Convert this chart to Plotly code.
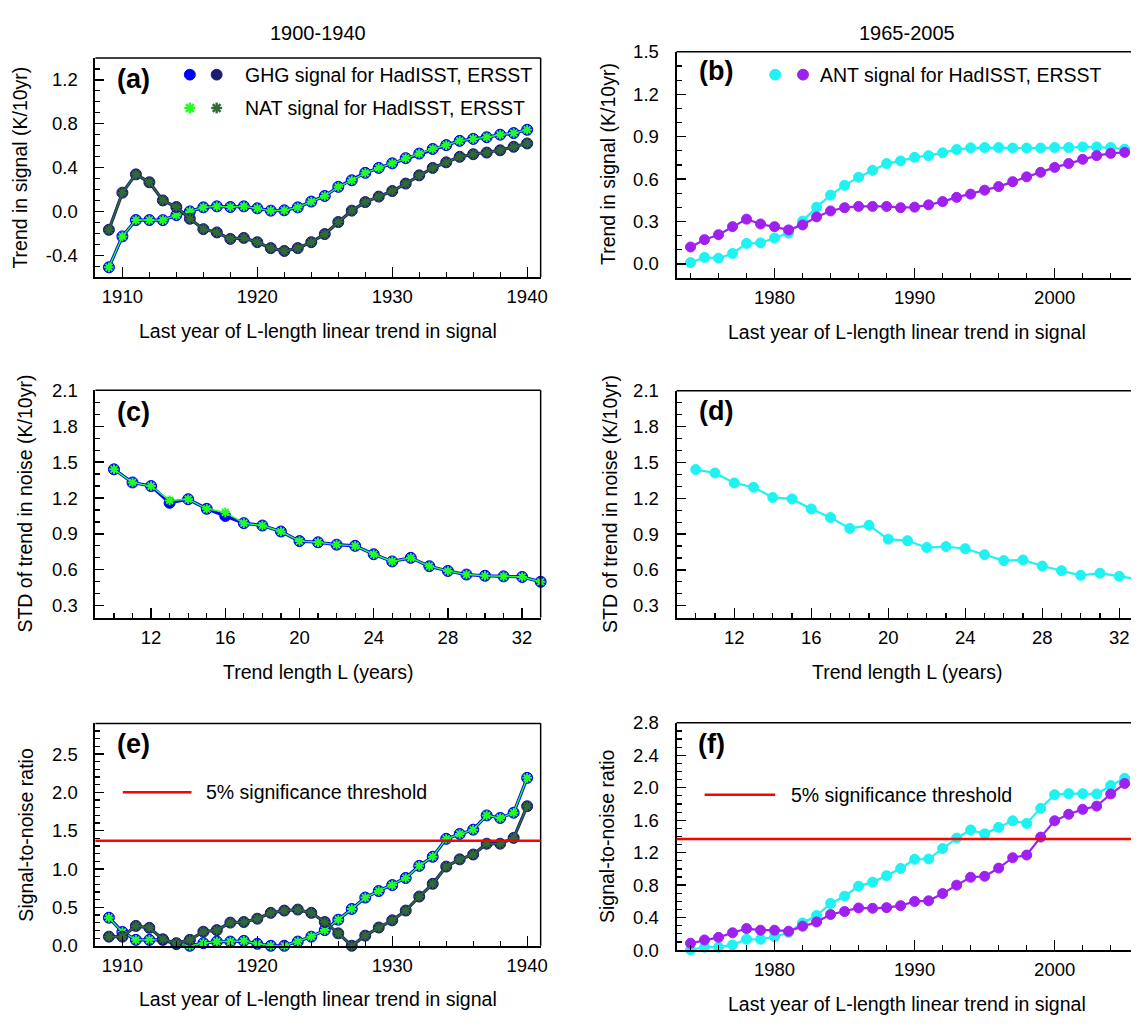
import plotly.graph_objects as go

W, H = 1138, 1026
FONT = "Liberation Sans, Arial, Helvetica, sans-serif"

# ---------------- data ----------------
YEARS_EARLY = list(range(1909, 1941))
YEARS_LATE = list(range(1974, 2006))
TREND_LENGTH = list(range(10, 34))

# (a) signal trends 1900-1940
GHG_SIGNAL_HAD = [-0.51, -0.228, -0.079, -0.079, -0.08, -0.034, 0.0, 0.037, 0.046, 0.04, 0.046,
                  0.028, 0.007, 0.01, 0.037, 0.09, 0.141, 0.224, 0.284, 0.352, 0.397, 0.439,
                  0.486, 0.528, 0.57, 0.605, 0.644, 0.662, 0.677, 0.70, 0.715, 0.745]
NAT_SIGNAL_HAD = [-0.51, -0.228, -0.079, -0.079, -0.08, -0.034, 0.0, 0.037, 0.046, 0.04, 0.046,
                  0.028, 0.007, 0.01, 0.037, 0.09, 0.141, 0.224, 0.284, 0.352, 0.397, 0.439,
                  0.486, 0.528, 0.57, 0.605, 0.644, 0.662, 0.677, 0.70, 0.715, 0.745]
GHG_SIGNAL_ERS = [-0.168, 0.171, 0.338, 0.266, 0.10, 0.04, -0.067, -0.162, -0.192, -0.251, -0.242,
                  -0.281, -0.335, -0.361, -0.335, -0.281, -0.207, -0.097, 0.007, 0.085, 0.135,
                  0.186, 0.254, 0.329, 0.397, 0.448, 0.498, 0.522, 0.537, 0.558, 0.59, 0.62]
NAT_SIGNAL_ERS = [-0.168, 0.171, 0.338, 0.266, 0.10, 0.04, -0.067, -0.162, -0.192, -0.251, -0.242,
                  -0.281, -0.335, -0.361, -0.335, -0.281, -0.207, -0.097, 0.007, 0.085, 0.135,
                  0.186, 0.254, 0.329, 0.397, 0.448, 0.498, 0.522, 0.537, 0.558, 0.59, 0.62]

# (b) ANT signal trends 1965-2005
ANT_SIGNAL_HAD = [0.01, 0.046, 0.041, 0.074, 0.145, 0.149, 0.184, 0.218, 0.303, 0.402, 0.487,
                  0.556, 0.614, 0.662, 0.71, 0.729, 0.754, 0.766, 0.786, 0.809, 0.821, 0.823,
                  0.823, 0.82, 0.82, 0.82, 0.823, 0.823, 0.828, 0.828, 0.823, 0.811]
ANT_SIGNAL_ERS = [0.12, 0.172, 0.207, 0.264, 0.317, 0.283, 0.264, 0.241, 0.276, 0.333, 0.375,
                  0.398, 0.407, 0.407, 0.407, 0.398, 0.402, 0.418, 0.441, 0.471, 0.494, 0.522,
                  0.547, 0.582, 0.616, 0.648, 0.683, 0.71, 0.74, 0.766, 0.782, 0.789]

# (c) / (d) STD of trend in noise
NOISE_GHG = [1.44, 1.33, 1.30, 1.16, 1.19, 1.11, 1.05, 0.99, 0.97, 0.92, 0.84, 0.83,
             0.81, 0.80, 0.73, 0.67, 0.70, 0.63, 0.59, 0.56, 0.55, 0.545, 0.54, 0.50]
NOISE_NAT = [1.44, 1.33, 1.30, 1.18, 1.19, 1.11, 1.08, 0.99, 0.97, 0.92, 0.84, 0.83,
             0.81, 0.80, 0.73, 0.67, 0.70, 0.63, 0.59, 0.56, 0.55, 0.545, 0.54, 0.50]
NOISE_ANT = [1.44, 1.411, 1.328, 1.292, 1.206, 1.194, 1.11, 1.038, 0.947, 0.973, 0.857, 0.844,
             0.787, 0.795, 0.777, 0.727, 0.678, 0.683, 0.632, 0.593, 0.554, 0.572, 0.546, 0.52]

# (e) signal-to-noise 1900-1940
SNR_GHG_HAD = [0.366, 0.18, 0.077, 0.077, 0.077, 0.021, 0.0, 0.034, 0.055, 0.055, 0.064, 0.026,
               0.0, 0.0, 0.055, 0.119, 0.204, 0.34, 0.48, 0.629, 0.714, 0.791, 0.884, 1.042,
               1.161, 1.395, 1.458, 1.514, 1.70, 1.667, 1.735, 2.19]
SNR_NAT_HAD = [0.366, 0.18, 0.077, 0.077, 0.077, 0.021, 0.0, 0.034, 0.055, 0.055, 0.064, 0.026,
               0.0, 0.0, 0.055, 0.119, 0.204, 0.34, 0.48, 0.629, 0.714, 0.791, 0.884, 1.042,
               1.161, 1.395, 1.458, 1.514, 1.70, 1.667, 1.735, 2.19]
SNR_GHG_ERS = [0.119, 0.119, 0.259, 0.234, 0.085, 0.034, 0.077, 0.183, 0.204, 0.302, 0.31, 0.353,
               0.429, 0.459, 0.472, 0.429, 0.31, 0.162, 0.0, 0.132, 0.238, 0.332, 0.459, 0.642,
               0.808, 1.033, 1.127, 1.19, 1.331, 1.331, 1.407, 1.82]
SNR_NAT_ERS = [0.119, 0.119, 0.259, 0.234, 0.085, 0.034, 0.077, 0.183, 0.204, 0.302, 0.31, 0.353,
               0.429, 0.459, 0.472, 0.429, 0.31, 0.162, 0.0, 0.132, 0.238, 0.332, 0.459, 0.642,
               0.808, 1.033, 1.127, 1.19, 1.331, 1.331, 1.407, 1.82]

# (f) signal-to-noise 1965-2005
SNR_ANT_HAD = [0.004, 0.036, 0.036, 0.064, 0.133, 0.133, 0.165, 0.217, 0.334, 0.426, 0.575,
               0.664, 0.788, 0.837, 0.917, 1.006, 1.118, 1.122, 1.251, 1.38, 1.48, 1.432,
               1.512, 1.593, 1.561, 1.746, 1.915, 1.927, 1.927, 1.923, 2.027, 2.116]
SNR_ANT_ERS = [0.084, 0.125, 0.157, 0.213, 0.265, 0.245, 0.245, 0.233, 0.294, 0.346, 0.438,
               0.475, 0.519, 0.515, 0.523, 0.547, 0.599, 0.607, 0.696, 0.80, 0.897, 0.909,
               1.01, 1.138, 1.171, 1.392, 1.593, 1.673, 1.734, 1.774, 1.923, 2.052]

THRESHOLD = 1.37

Y_TICKS_A = [-0.4, 0.0, 0.4, 0.8, 1.2]
Y_TICKS_B = [0.0, 0.3, 0.6, 0.9, 1.2, 1.5]
Y_TICKS_CD = [0.3, 0.6, 0.9, 1.2, 1.5, 1.8, 2.1]
Y_TICKS_E = [0.0, 0.5, 1.0, 1.5, 2.0, 2.5]
Y_TICKS_F = [0.0, 0.4, 0.8, 1.2, 1.6, 2.0, 2.4, 2.8]

# ---------------- styles ----------------
BLUE = "#0000ff"
NAVY = "#1c1c72"
LIME = "#22ff22"
DKGREEN = "#2f6b35"
CYAN = "#1ff2f2"
PURPLE = "#a020f0"
RED = "#ff0000"


def px(x):
    return x / W


def py(y):
    return 1 - y / H


# panel geometry in pixels: (left, right, top, bottom)
GEOM = {
    1: (96, 544, 48, 271.7),
    2: (680.7, W, 41.7, 272.7),
    3: (96, 544, 387.3, 619.3),
    4: (680.7, W, 387.7, 619.3),
    5: (96, 544, 727.3, 954.3),
    6: (680.7, W, 726.7, 958.7),
}

fig = go.Figure()


def add(i, x, y, color, symbol, msize, lw, mline=None):
    suffix = "" if i == 1 else str(i)
    if symbol == "asterisk-open":
        marker = dict(symbol=symbol, size=msize, line=dict(color=color, width=2))
    else:
        marker = dict(symbol=symbol, size=msize, color=color,
                      line=dict(color=mline or color, width=1))
    fig.add_trace(go.Scatter(x=x, y=y, mode="lines+markers", xaxis="x" + suffix,
                             yaxis="y" + suffix, line=dict(color=color, width=lw),
                             marker=marker, cliponaxis=False, showlegend=False,
                             hoverinfo="skip"))


# (a)
add(1, YEARS_EARLY, GHG_SIGNAL_HAD, BLUE, "circle", 11, 3.2)
add(1, YEARS_EARLY, NAT_SIGNAL_HAD, LIME, "asterisk-open", 8, 1.4)
add(1, YEARS_EARLY, GHG_SIGNAL_ERS, NAVY, "circle", 11, 3.2)
add(1, YEARS_EARLY, NAT_SIGNAL_ERS, DKGREEN, "asterisk-open", 8, 1.6)
# (b)
add(2, YEARS_LATE, ANT_SIGNAL_HAD, CYAN, "circle", 10, 2.2)
add(2, YEARS_LATE, ANT_SIGNAL_ERS, PURPLE, "circle", 10, 2.2)
# (c)
add(3, TREND_LENGTH, NOISE_GHG, BLUE, "circle", 11, 3.2)
add(3, TREND_LENGTH, NOISE_NAT, LIME, "asterisk-open", 8, 1.4)
# (d)
add(4, TREND_LENGTH, NOISE_ANT, CYAN, "circle", 10, 2.2)
# (e)
add(5, YEARS_EARLY, SNR_GHG_HAD, BLUE, "circle", 11, 3.2)
add(5, YEARS_EARLY, SNR_NAT_HAD, LIME, "asterisk-open", 8, 1.4)
add(5, YEARS_EARLY, SNR_GHG_ERS, NAVY, "circle", 11, 3.2)
add(5, YEARS_EARLY, SNR_NAT_ERS, DKGREEN, "asterisk-open", 8, 1.6)
# (f)
add(6, YEARS_LATE, SNR_ANT_HAD, CYAN, "circle", 10, 2.2)
add(6, YEARS_LATE, SNR_ANT_ERS, PURPLE, "circle", 10, 2.2)

tickfont = dict(family=FONT, size=18.5, color="black")


def xaxis(i, rng, dtick, minor_dtick, tick0):
    l, r, t, b = GEOM[i]
    return dict(domain=[px(l), px(r)], range=rng, anchor="y" if i == 1 else "y" + str(i),
                showline=True, linewidth=2, linecolor="black", mirror=False,
                ticks="inside", ticklen=10, tickwidth=1.3, tickcolor="black",
                tickmode="linear", dtick=dtick, tick0=tick0,
                minor=dict(ticks="inside", ticklen=5, tickwidth=1.2, tickcolor="black",
                           dtick=minor_dtick, tick0=tick0, showgrid=False),
                showgrid=False, zeroline=False, tickfont=tickfont,
                ticklabelstandoff=2, fixedrange=True)


def yaxis(i, rng, vals):
    l, r, t, b = GEOM[i]
    return dict(domain=[py(b), py(t)], range=rng, anchor="x" if i == 1 else "x" + str(i),
                showline=True, linewidth=2, linecolor="black", mirror=False,
                ticks="inside", ticklen=9, tickwidth=1.3, tickcolor="black",
                tickmode="array", tickvals=vals, ticktext=[f"{v:.1f}" for v in vals],
                minor=dict(ticks="inside", ticklen=5, tickwidth=1.2, tickcolor="black",
                           dtick=0.1, tick0=0, showgrid=False),
                showgrid=False, zeroline=False, tickfont=tickfont,
                ticklabelstandoff=12, fixedrange=True)


layout = dict(
    width=W, height=H, margin=dict(l=0, r=0, t=0, b=0),
    paper_bgcolor="white", plot_bgcolor="white",
    font=dict(family=FONT, size=19, color="black"),
    showlegend=False,
    xaxis=xaxis(1, [1908, 1941], 10, 2, 1900),
    yaxis=yaxis(1, [-0.6, 1.4], Y_TICKS_A),
    xaxis2=xaxis(2, [1973, 2005.45], 10, 2, 1900),
    yaxis2=yaxis(2, [-0.1, 1.5], Y_TICKS_B),
    xaxis3=xaxis(3, [9, 33], 4, 1, 0),
    yaxis3=yaxis(3, [0.2, 2.1], Y_TICKS_CD),
    xaxis4=xaxis(4, [9, 32.61], 4, 1, 0),
    yaxis4=yaxis(4, [0.2, 2.1], Y_TICKS_CD),
    xaxis5=xaxis(5, [1908, 1941], 10, 2, 1900),
    yaxis5=yaxis(5, [0.0, 2.9], Y_TICKS_E),
    xaxis6=xaxis(6, [1973, 2005.45], 10, 2, 1900),
    yaxis6=yaxis(6, [0.0, 2.8], Y_TICKS_F),
)
fig.update_layout(**layout)

shapes = []
# frame: top (and right for left column) thin lines
for i, (l, r, t, b) in GEOM.items():
    shapes.append(dict(type="line", xref="paper", yref="paper", x0=px(l), x1=px(r),
                       y0=py(t), y1=py(t), line=dict(color="black", width=1.5), layer="above"))
    if r < W:
        shapes.append(dict(type="line", xref="paper", yref="paper", x0=px(r), x1=px(r),
                           y0=py(t), y1=py(b), line=dict(color="black", width=1.5),
                           layer="above"))

# significance threshold lines
for ax in ("5", "6"):
    shapes.append(dict(type="line", xref="x" + ax + " domain", yref="y" + ax, x0=0, x1=1,
                       y0=THRESHOLD, y1=THRESHOLD, line=dict(color=RED, width=2.5),
                       layer="above"))


def legend_circle(cx, cy, r, color):
    shapes.append(dict(type="circle", xref="paper", yref="paper",
                       x0=px(cx - r), x1=px(cx + r), y0=py(cy + r), y1=py(cy - r),
                       fillcolor=color, line=dict(color=color, width=1)))


def legend_asterisk(cx, cy, r, color):
    d = r * 0.7071
    for dx, dy in ((r, 0), (0, r), (d, d), (d, -d)):
        shapes.append(dict(type="line", xref="paper", yref="paper",
                           x0=px(cx - dx), x1=px(cx + dx), y0=py(cy - dy), y1=py(cy + dy),
                           line=dict(color=color, width=2.4)))


legend_circle(191, 65, 5.5, BLUE)
legend_circle(218, 65, 5.5, NAVY)
legend_asterisk(191, 99, 5.5, LIME)
legend_asterisk(218, 99, 5.5, DKGREEN)
legend_circle(780, 65, 5.5, CYAN)
legend_circle(808, 65, 5.5, PURPLE)
for (x0, x1, y) in ((123.6, 192.7, 797.7), (709, 780, 800)):
    shapes.append(dict(type="line", xref="paper", yref="paper", x0=px(x0), x1=px(x1),
                       y0=py(y), y1=py(y), line=dict(color=RED, width=2.5)))

fig.update_layout(shapes=shapes)

ann = []


def text(x, y, s, size=19, bold=False, angle=0, xanchor="center"):
    ann.append(dict(xref="paper", yref="paper", x=px(x), y=py(y), text=f"<b>{s}</b>" if bold else s,
                    showarrow=False, textangle=angle, xanchor=xanchor, yanchor="middle",
                    font=dict(family=FONT, size=size, color="black")))


# column titles
text(320, 22, "1900-1940", 20)
text(913, 22, "1965-2005", 20)
# panel labels
text(134, 69, "(a)", 27, bold=True)
text(720, 61, "(b)", 27, bold=True)
text(134, 409, "(c)", 27, bold=True)
text(720, 408, "(d)", 27, bold=True)
text(134, 748, "(e)", 27, bold=True)
text(716, 748, "(f)", 27, bold=True)
# legends text
text(245, 65, "GHG signal for HadISST, ERSST", 19.5, xanchor="left")
text(245, 99, "NAT signal for HadISST, ERSST", 19.5, xanchor="left")
text(823, 65, "ANT signal for HadISST, ERSST", 19.5, xanchor="left")
text(205.5, 797.7, "5% significance threshold", 19.5, xanchor="left")
text(793.6, 800, "5% significance threshold", 19.5, xanchor="left")
# y titles
text(20, 160, "Trend in signal (K/10yr)", 19.5, angle=-90)
text(612, 156, "Trend in signal (K/10yr)", 19.5, angle=-90)
text(25, 503, "STD of trend in noise (K/10yr)", 19.5, angle=-90)
text(613, 503, "STD of trend in noise (K/10yr)", 19.5, angle=-90)
text(26, 841, "Signal-to-noise ratio", 19.5, angle=-90)
text(611, 842, "Signal-to-noise ratio", 19.5, angle=-90)
# x titles
text(320, 327, "Last year of L-length linear trend in signal", 19.5)
text(913, 328, "Last year of L-length linear trend in signal", 19.5)
text(320, 675, "Trend length L (years)", 19.5)
text(913, 675, "Trend length L (years)", 19.5)
text(320, 1009, "Last year of L-length linear trend in signal", 19.5)
text(913, 1014, "Last year of L-length linear trend in signal", 19.5)

fig.update_layout(annotations=ann)

fig.write_html("out.html",
               config={"displayModeBar": False, "staticPlot": True},
               post_script="document.body.style.margin='0px';"
                           "document.body.style.overflow='hidden';")
